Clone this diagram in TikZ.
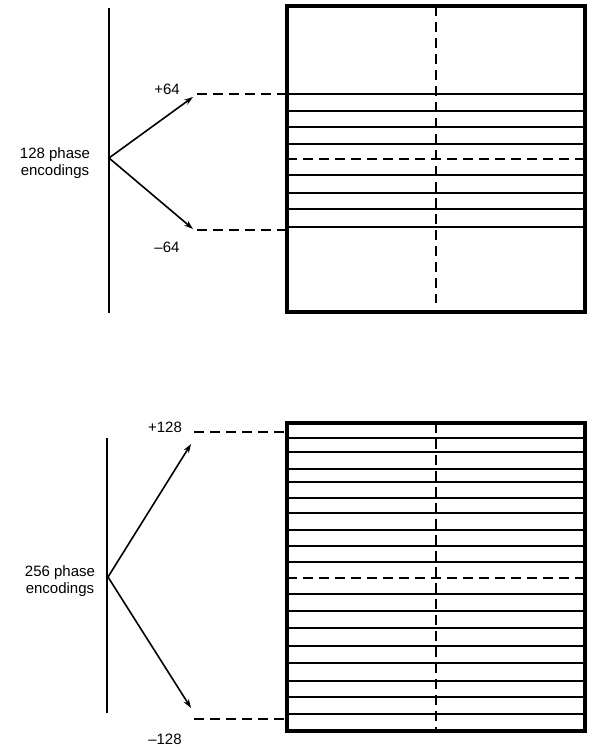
\documentclass[tikz,border=0pt]{standalone}
\usepackage{fontspec}
\setmainfont{Liberation Sans}
\usetikzlibrary{arrows.meta}

\tikzset{
  frame/.style={line width=3.2pt},
  row/.style={line width=2pt},
  axis/.style={line width=1.8pt},
  leader/.style={line width=1.8pt, dash pattern=on 10pt off 6pt},
  centre/.style={line width=1.8pt, dash pattern=on 10pt off 6pt},
  ray/.style={line width=1.6pt, -{Stealth[length=9pt,width=6pt]}},
  lbl/.style={font=\fontsize{15}{16.5}\selectfont, align=center, inner sep=0pt}
}

\begin{document}
\begin{tikzpicture}[x=1pt,y=-1pt]
    \useasboundingbox (0,0) rectangle (596,749);

    % upper panel: 128 phase encodings
    \draw[axis] (109,8) -- (109,313);
    \coordinate (o1) at (109,158);
    \coordinate (p1) at (193,97);
    \coordinate (m1) at (193,229);
    \draw[ray] (o1) -- (p1);
    \draw[ray] (o1) -- (m1);
    \node[lbl] (enc1) at (55,163) {128 phase\\encodings};
    \node[lbl] (plus1) at (167,89) {+64};
    \node[lbl] (minus1) at (167,247) {\textendash64};

    % k-space box with the sampled rows
    \draw[frame] (287,6) rectangle (585,312);
    \foreach \y in {94,111,127,144,175,193,209,227}
        \draw[row] (287,\y) -- (585,\y);
    \draw[centre] (287,159) -- (585,159);
    \draw[centre] (436,6) -- (436,303);

    % leaders from the arrows to the box
    \coordinate (lp1) at (197,94);
    \coordinate (rp1) at (287,94);
    \coordinate (lm1) at (197,230);
    \coordinate (rm1) at (287,230);
    \draw[leader] (lp1) -- (rp1);
    \draw[leader] (lm1) -- (rm1);

    % lower panel: 256 phase encodings
    \draw[axis] (107,438) -- (107,713);
    \coordinate (o2) at (108,577);
    \coordinate (p2) at (191,444);
    \coordinate (m2) at (191,708);
    \draw[ray] (o2) -- (p2);
    \draw[ray] (o2) -- (m2);
    \node[lbl] (enc2) at (60,581) {256 phase\\encodings};
    \node[lbl] (plus2) at (165,427) {+128};
    \node[lbl] (minus2) at (165,739) {\textendash128};

    % k-space box, every row sampled
    \draw[frame] (287,423) rectangle (585,731);
    \foreach \y in {438,452,469,482,498,513,530,546,562,594,611,628,646,663,681,697,714}
        \draw[row] (287,\y) -- (585,\y);
    \draw[centre] (287,578) -- (585,578);
    \draw[centre] (436,423) -- (436,731);

    \coordinate (lp2) at (194,432);
    \coordinate (rp2) at (287,432);
    \coordinate (lm2) at (194,719);
    \coordinate (rm2) at (287,719);
    \draw[leader] (lp2) -- (rp2);
    \draw[leader] (lm2) -- (rm2);
\end{tikzpicture}
\end{document}
